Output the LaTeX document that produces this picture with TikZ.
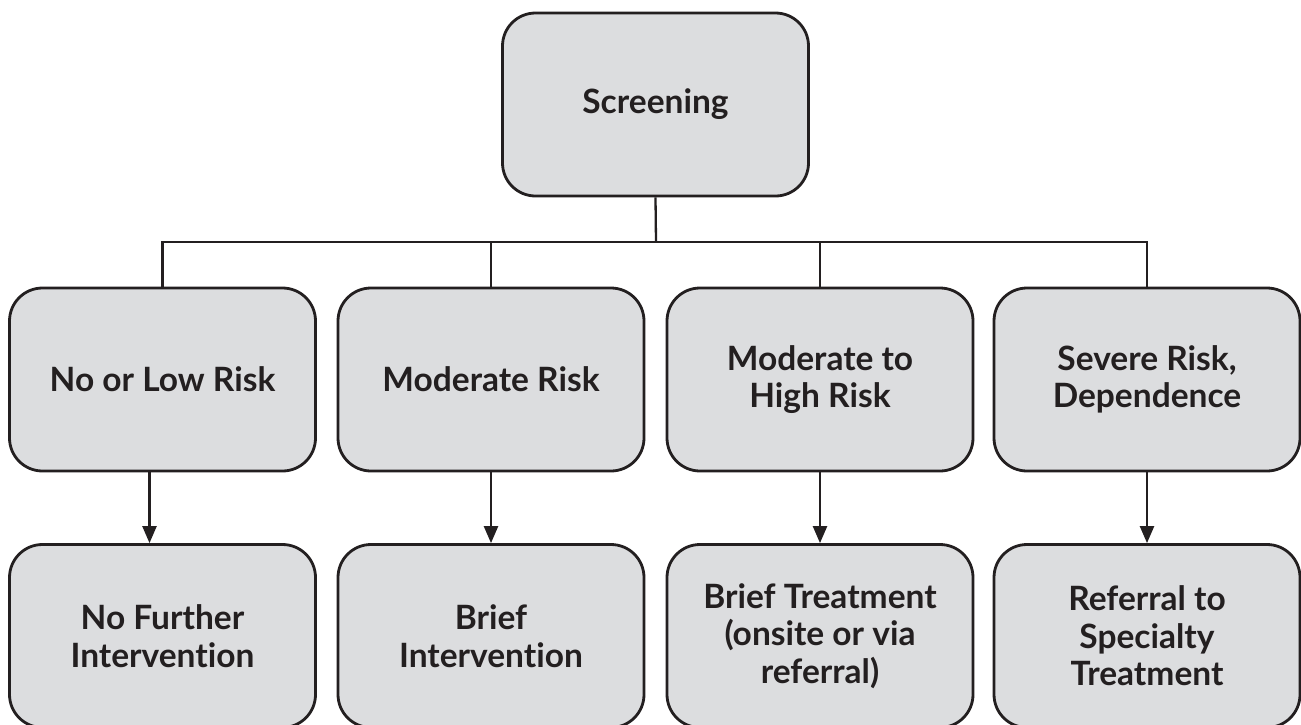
\documentclass[tikz,border=0pt]{standalone}
\usepackage{fontspec}
\setmainfont{Lato}[RawFeature={-liga}]
\usetikzlibrary{arrows.meta}
\definecolor{boxfill}{HTML}{DCDDDF}
\definecolor{ink}{HTML}{231F20}
\tikzset{
  flowbox/.style={draw=ink, fill=boxfill, line width=2.8pt, rounded corners=33pt,
    minimum width=306pt, minimum height=183pt, inner sep=0pt, align=center,
    text=ink, font=\fontsize{33.5}{37.5}\selectfont\bfseries},
  link/.style={draw=ink, line width=2.3pt},
  arrowlink/.style={link, -{Triangle[length=17pt,width=14pt]}}
}
\begin{document}
\begin{tikzpicture}[x=1pt,y=-1pt]
\useasboundingbox (0,0) rectangle (1301,724);
\clip (0,0) rectangle (1301,724);
\fill[white] (0,0) rectangle (1301,724);
\node[flowbox] (scr) at (655.5,104.5) {Screening};
\node[flowbox] (r1) at (162.5,379.5) {No or Low Risk};
\node[flowbox] (r2) at (491,379.5) {Moderate Risk};
\node[flowbox] (r3) at (820,379.5) {Moderate to\\High Risk};
\node[flowbox] (r4) at (1147,379.5) {Severe Risk,\\Dependence};
\node[flowbox] (b1) at (162.5,636) {No Further\\Intervention};
\node[flowbox] (b2) at (491,636) {Brief\\Intervention};
\node[flowbox] (b3) at (820,636) {Brief Treatment\\(onsite or via\\referral)};
\node[flowbox] (b4) at (1147,636) {Referral to\\Specialty\\Treatment};
\coordinate (bar) at (656,242);
\draw[link] (scr.south) -- (bar);
\draw[link] (r1.north) -- (r1.north |- bar) -- (r4.north |- bar) -- (r4.north);
\draw[link] (r2.north) -- (r2.north |- bar);
\draw[link] (r3.north) -- (r3.north |- bar);
\draw[arrowlink] ([xshift=-13pt]r1.south) -- ([xshift=-13pt]b1.north);
\draw[arrowlink] (r2.south) -- (b2.north);
\draw[arrowlink] (r3.south) -- (b3.north);
\draw[arrowlink] (r4.south) -- (b4.north);
\end{tikzpicture}
\end{document}
